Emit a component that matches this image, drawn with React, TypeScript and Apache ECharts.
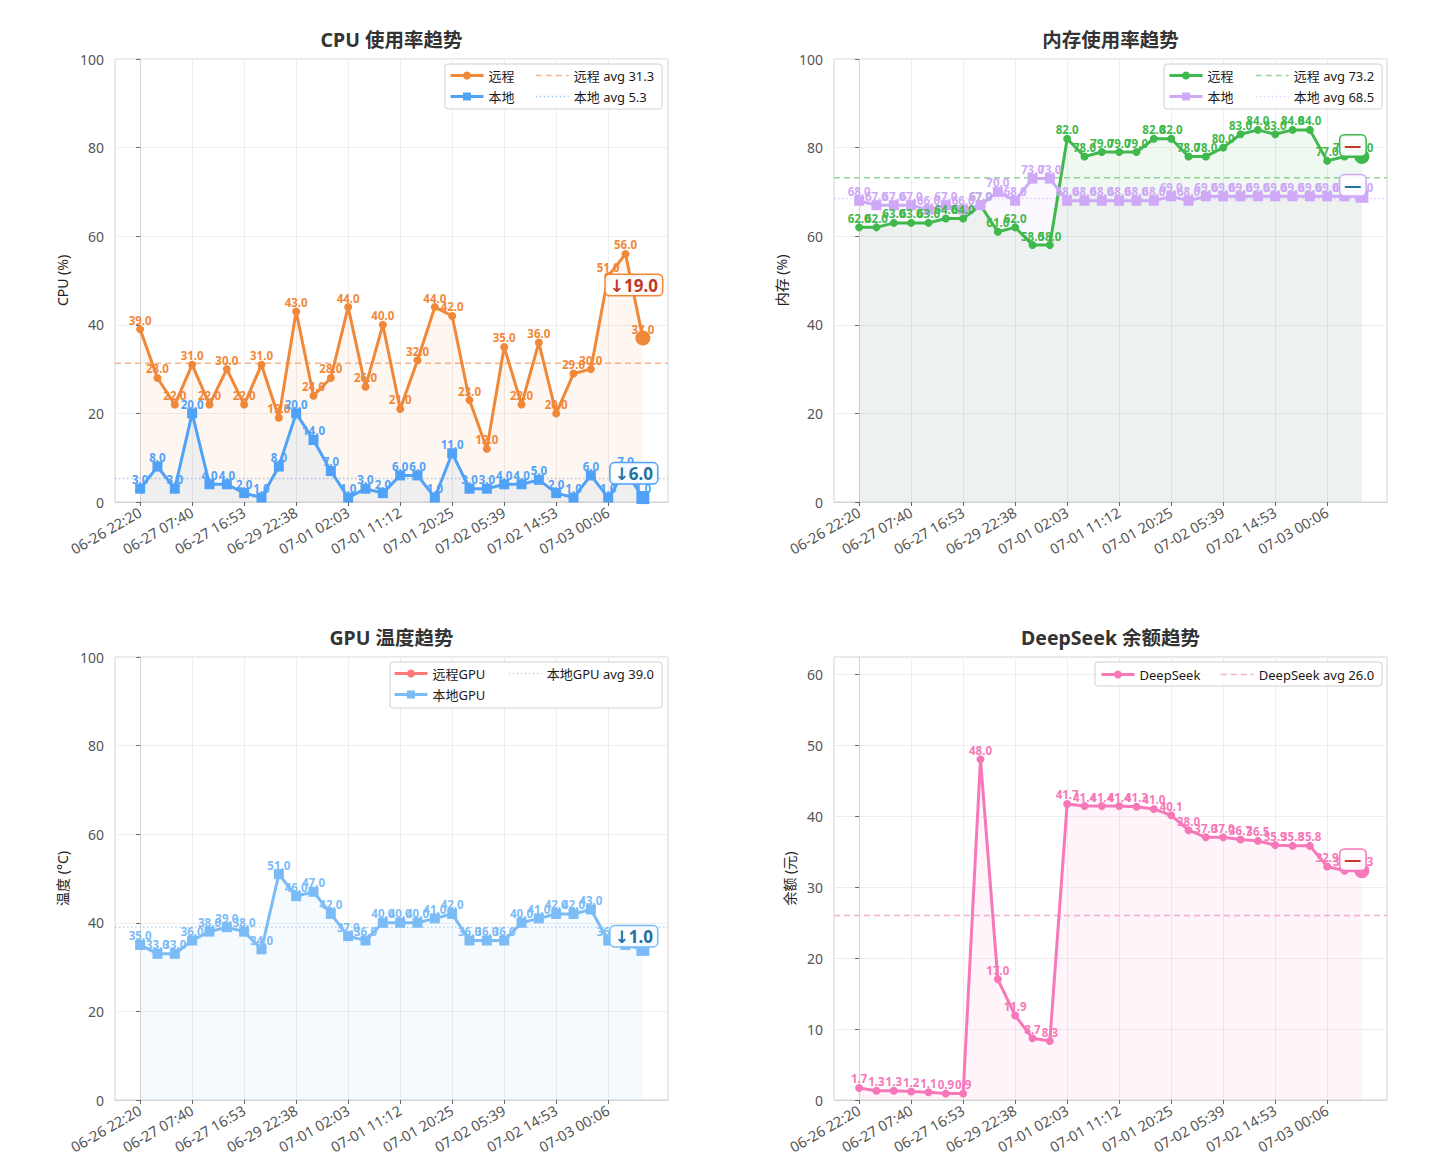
import React, { useEffect, useRef } from 'react';
import * as echarts from 'echarts';

const FONT = '"Noto Sans", "Noto Sans CJK SC", sans-serif';
const NOTE_FONT = '"Noto Sans", "DejaVu Sans", "Noto Sans CJK SC", sans-serif';

// ---- x axis ticks (every third sample is labelled) ----
const TICK_POS = [0, 3, 6, 9, 12, 15, 18, 21, 24, 27];
const TICK_LABELS = [
  '06-26 22:20', '06-27 07:40', '06-27 16:53', '06-29 22:38', '07-01 02:03',
  '07-01 11:12', '07-01 20:25', '07-02 05:39', '07-02 14:53', '07-03 00:06',
];

// ---- data ----
const CPU_REMOTE = [39, 28, 22, 31, 22, 30, 22, 31, 19, 43, 24, 28, 44, 26, 40, 21, 32, 44, 42, 23, 12, 35, 22, 36, 20, 29, 30, 51, 56, 37];
const CPU_LOCAL = [3, 8, 3, 20, 4, 4, 2, 1, 8, 20, 14, 7, 1, 3, 2, 6, 6, 1, 11, 3, 3, 4, 4, 5, 2, 1, 6, 1, 7, 1];
const MEM_REMOTE = [62, 62, 63, 63, 63, 64, 64, 67, 61, 62, 58, 58, 82, 78, 79, 79, 79, 82, 82, 78, 78, 80, 83, 84, 83, 84, 84, 77, 78, 78];
const MEM_LOCAL = [68, 67, 67, 67, 66, 67, 66, 67, 70, 68, 73, 73, 68, 68, 68, 68, 68, 68, 69, 68, 69, 69, 69, 69, 69, 69, 69, 69, 69, 69];
const GPU_REMOTE: number[] = [];
const GPU_LOCAL = [35, 33, 33, 36, 38, 39, 38, 34, 51, 46, 47, 42, 37, 36, 40, 40, 40, 41, 42, 36, 36, 36, 40, 41, 42, 42, 43, 36, 35, 34];
const DEEPSEEK = [1.7, 1.3, 1.3, 1.2, 1.1, 0.9, 0.9, 48.0, 17.0, 11.9, 8.7, 8.3, 41.7, 41.4, 41.4, 41.4, 41.3, 41.0, 40.1, 38.0, 37.0, 37.0, 36.7, 36.5, 35.9, 35.8, 35.8, 32.9, 32.3, 32.3];

// averages as shown in the legends
const CPU_REMOTE_AVG = 31.3;
const CPU_LOCAL_AVG = 5.3;
const MEM_REMOTE_AVG = 73.2;
const MEM_LOCAL_AVG = 68.5;
const GPU_LOCAL_AVG = 39.0;
const DEEPSEEK_AVG = 26.0;

const Y_TICKS_100 = [0, 20, 40, 60, 80, 100];
const Y_TICKS_DS = [0, 10, 20, 30, 40, 50, 60];

const N_POINTS = 30;
const X_PAD = 1.45;
const X_MIN = -X_PAD;
const X_MAX = N_POINTS - 1 + X_PAD;

const NOTE_RED = '#c0392b';
const NOTE_BLUE = '#2471a3';

type LineSpec = {
  name: string;
  values: number[];
  color: string;
  symbol: string;
  size: number;
  bigSize: number;
  width: number;
  fill: number;
  noteColor: string;
};
type AvgSpec = { name: string; value: number; color: string; dash: number[] };
type LegendCol = { left: number; top: number; names: string[] };
type PanelSpec = {
  title: string;
  titleTop: number;
  yName: string;
  yNameGap: number;
  gridLeft: number;
  gridTop: number;
  yMax: number;
  yTicks: number[];
  lines: LineSpec[];
  avgs: AvgSpec[];
  frame: [number, number, number, number];
  legends: LegendCol[];
};

const GRID_W = 553;
const GRID_H = 443;

function buildOption(p: PanelSpec): any {
  const series: any[] = [];
  const avgNames = new Set(p.avgs.map((a) => a.name));
  p.avgs.forEach((a) => {
    series.push({
      type: 'line',
      name: a.name,
      data: [[X_MIN, a.value], [X_MAX, a.value]],
      symbol: 'none',
      silent: true,
      lineStyle: { color: a.color, width: 1.5, type: a.dash },
      itemStyle: { color: a.color },
      z: 1,
    });
  });
  p.lines.forEach((l) => {
    const n = l.values.length;
    const s: any = {
      type: 'line',
      name: l.name,
      data: l.values.map((v, i) => [i, v]),
      symbol: l.symbol,
      symbolSize: (_v: any, prm: any) => (prm && prm.dataIndex === n - 1 ? l.bigSize : l.size),
      showSymbol: true,
      lineStyle: { color: l.color, width: l.width },
      itemStyle: { color: l.color },
      areaStyle: { color: l.color, opacity: l.fill },
      label: {
        show: true,
        position: 'inside',
        offset: [0, -9],
        formatter: (prm: any) => Number(prm.value[1]).toFixed(1),
        color: l.color,
        fontSize: 11.5,
        fontWeight: 'bold',
        fontFamily: FONT,
      },
      z: 3,
    };
    if (n >= 2) {
      const last = l.values[n - 1];
      const prev = l.values[n - 2];
      const d = last - prev;
      const txt = Math.abs(d) < 0.05 ? '—' : (d < 0 ? '↓' : '↑') + Math.abs(d).toFixed(1);
      s.markPoint = {
        symbol: 'rect',
        symbolSize: 1,
        itemStyle: { color: 'rgba(0,0,0,0)' },
        z: 10,
        data: [{ coord: [n - 1, (last + prev) / 2] }],
        label: {
          show: true,
          position: 'inside',
          offset: [-9, -11],
          formatter: txt,
          color: l.noteColor,
          fontSize: 17,
          fontWeight: 'bold',
          fontFamily: NOTE_FONT,
          backgroundColor: 'rgba(255,255,255,0.92)',
          borderColor: l.color,
          borderWidth: 1.5,
          borderRadius: 4,
          padding: [2, 4, 1, 4],
        },
      };
    }
    series.push(s);
  });

  return {
    animation: false,
    backgroundColor: '#ffffff',
    textStyle: { fontFamily: FONT },
    title: {
      text: p.title,
      left: p.gridLeft + GRID_W / 2,
      top: p.titleTop,
      padding: 0,
      textAlign: 'center',
      textStyle: { fontSize: 19.5, fontWeight: 'bold', color: '#333333', fontFamily: FONT },
    },
    grid: {
      left: p.gridLeft,
      top: p.gridTop,
      width: GRID_W,
      height: GRID_H,
      show: true,
      borderColor: '#d4d4d4',
      borderWidth: 1,
      backgroundColor: 'transparent',
    },
    xAxis: {
      type: 'value',
      min: X_MIN,
      max: X_MAX,
      axisLine: { show: true, lineStyle: { color: '#d4d4d4' } },
      axisTick: { show: true, customValues: TICK_POS, length: 4, lineStyle: { color: '#666' } },
      axisLabel: {
        customValues: TICK_POS,
        formatter: (v: number) => {
          const k = TICK_POS.indexOf(Math.round(v));
          return k >= 0 ? TICK_LABELS[k] : '';
        },
        rotate: 30,
        fontSize: 14.5,
        color: '#555555',
        margin: 9,
        fontFamily: FONT,
      },
      splitLine: { show: true, lineStyle: { color: '#eeeeee', width: 1 } },
    },
    yAxis: {
      type: 'value',
      min: 0,
      max: p.yMax,
      name: p.yName,
      nameLocation: 'middle',
      nameGap: p.yNameGap,
      nameTextStyle: { fontSize: 14, color: '#222222', fontFamily: FONT },
      axisLine: { show: true, lineStyle: { color: '#d4d4d4' } },
      axisTick: { show: true, customValues: p.yTicks, length: 4, lineStyle: { color: '#666' } },
      axisLabel: {
        customValues: p.yTicks,
        fontSize: 14,
        color: '#555555',
        margin: 11,
        fontFamily: FONT,
      },
      splitLine: { show: true, lineStyle: { color: '#eeeeee', width: 1 } },
    },
    legend: p.legends.map((c) => ({
      data: c.names.map((nm) =>
        avgNames.has(nm)
          ? { name: nm, itemStyle: { opacity: 0, color: 'rgba(0,0,0,0)' }, lineStyle: { width: 1.5 } }
          : { name: nm, lineStyle: { width: 3 } }
      ),
      left: c.left,
      top: c.top,
      orient: 'vertical',
      itemWidth: 33,
      itemHeight: 10,
      itemGap: 8,
      padding: 0,
      selectedMode: false,
      textStyle: { fontSize: 13, color: '#1a1a1a', fontFamily: FONT },
      z: 6,
    })),
    graphic: [
      {
        type: 'rect',
        z: 5,
        silent: true,
        shape: { x: p.frame[0], y: p.frame[1], width: p.frame[2], height: p.frame[3], r: 3 },
        style: { fill: 'rgba(255,255,255,0.85)', stroke: '#d0d0d0', lineWidth: 1 },
      },
    ],
    series,
  };
}

const CPU_PANEL: PanelSpec = {
  title: 'CPU 使用率趋势',
  titleTop: 30,
  yName: 'CPU (%)',
  yNameGap: 46,
  gridLeft: 115,
  gridTop: 59,
  yMax: 100,
  yTicks: Y_TICKS_100,
  avgs: [
    { name: '远程 avg ' + CPU_REMOTE_AVG.toFixed(1), value: CPU_REMOTE_AVG, color: '#f6b68c', dash: [6, 4] },
    { name: '本地 avg ' + CPU_LOCAL_AVG.toFixed(1), value: CPU_LOCAL_AVG, color: '#9fc9f6', dash: [1.5, 2.5] },
  ],
  lines: [
    { name: '远程', values: CPU_REMOTE, color: '#f0883a', symbol: 'circle', size: 8, bigSize: 15, width: 3, fill: 0.08, noteColor: NOTE_RED },
    { name: '本地', values: CPU_LOCAL, color: '#4fa2f7', symbol: 'rect', size: 10, bigSize: 13, width: 3, fill: 0.08, noteColor: NOTE_BLUE },
  ],
  frame: [445, 64, 217, 45],
  legends: [
    { left: 449, top: 69, names: ['远程', '本地'] },
    { left: 535, top: 69, names: ['远程 avg ' + CPU_REMOTE_AVG.toFixed(1), '本地 avg ' + CPU_LOCAL_AVG.toFixed(1)] },
  ],
};

const MEM_PANEL: PanelSpec = {
  title: '内存使用率趋势',
  titleTop: 30,
  yName: '内存 (%)',
  yNameGap: 46,
  gridLeft: 119,
  gridTop: 59,
  yMax: 100,
  yTicks: Y_TICKS_100,
  avgs: [
    { name: '远程 avg ' + MEM_REMOTE_AVG.toFixed(1), value: MEM_REMOTE_AVG, color: '#94d79c', dash: [6, 4] },
    { name: '本地 avg ' + MEM_LOCAL_AVG.toFixed(1), value: MEM_LOCAL_AVG, color: '#e3cff8', dash: [1.5, 2.5] },
  ],
  lines: [
    { name: '远程', values: MEM_REMOTE, color: '#3fb84c', symbol: 'circle', size: 8, bigSize: 15, width: 3, fill: 0.08, noteColor: NOTE_RED },
    { name: '本地', values: MEM_LOCAL, color: '#cfa8f7', symbol: 'rect', size: 10, bigSize: 13, width: 3, fill: 0.08, noteColor: NOTE_BLUE },
  ],
  frame: [449, 64, 218, 45],
  legends: [
    { left: 453, top: 69, names: ['远程', '本地'] },
    { left: 540, top: 69, names: ['远程 avg ' + MEM_REMOTE_AVG.toFixed(1), '本地 avg ' + MEM_LOCAL_AVG.toFixed(1)] },
  ],
};

const GPU_PANEL: PanelSpec = {
  title: 'GPU 温度趋势',
  titleTop: 43,
  yName: '温度 (°C)',
  yNameGap: 46,
  gridLeft: 115,
  gridTop: 72,
  yMax: 100,
  yTicks: Y_TICKS_100,
  avgs: [
    { name: '本地GPU avg ' + GPU_LOCAL_AVG.toFixed(1), value: GPU_LOCAL_AVG, color: '#b6d9f8', dash: [1.5, 2.5] },
  ],
  lines: [
    { name: '远程GPU', values: GPU_REMOTE, color: '#ff7b7b', symbol: 'circle', size: 8, bigSize: 15, width: 3, fill: 0.08, noteColor: NOTE_RED },
    { name: '本地GPU', values: GPU_LOCAL, color: '#7bbcf7', symbol: 'rect', size: 10, bigSize: 13, width: 3, fill: 0.08, noteColor: NOTE_BLUE },
  ],
  frame: [390, 77, 272, 46],
  legends: [
    { left: 393, top: 82, names: ['远程GPU', '本地GPU'] },
    { left: 508, top: 82, names: ['本地GPU avg ' + GPU_LOCAL_AVG.toFixed(1)] },
  ],
};

const DS_PANEL: PanelSpec = {
  title: 'DeepSeek 余额趋势',
  titleTop: 43,
  yName: '余额 (元)',
  yNameGap: 38,
  gridLeft: 119,
  gridTop: 72,
  yMax: 62.4,
  yTicks: Y_TICKS_DS,
  avgs: [
    { name: 'DeepSeek avg ' + DEEPSEEK_AVG.toFixed(1), value: DEEPSEEK_AVG, color: '#f7afd1', dash: [6, 4] },
  ],
  lines: [
    { name: 'DeepSeek', values: DEEPSEEK, color: '#f778b8', symbol: 'circle', size: 8, bigSize: 15, width: 3, fill: 0.08, noteColor: NOTE_RED },
  ],
  frame: [380, 77, 287, 24],
  legends: [
    { left: 385, top: 83, names: ['DeepSeek'] },
    { left: 505, top: 83, names: ['DeepSeek avg ' + DEEPSEEK_AVG.toFixed(1)] },
  ],
};

function Panel({ spec, left, top }: { spec: PanelSpec; left: number; top: number }) {
  const ref = useRef<HTMLDivElement>(null);
  useEffect(() => {
    if (!ref.current) return;
    const chart = echarts.init(ref.current, undefined, { renderer: 'svg' });
    chart.setOption(buildOption(spec));
    return () => chart.dispose();
  }, [spec]);
  return <div ref={ref} style={{ position: 'absolute', left, top, width: 715, height: 585 }} />;
}

export default function App() {
  return (
    <div style={{ position: 'absolute', left: 0, top: 0, width: 1430, height: 1170, background: '#ffffff' }}>
      <Panel spec={CPU_PANEL} left={0} top={0} />
      <Panel spec={MEM_PANEL} left={715} top={0} />
      <Panel spec={GPU_PANEL} left={0} top={585} />
      <Panel spec={DS_PANEL} left={715} top={585} />
    </div>
  );
}
